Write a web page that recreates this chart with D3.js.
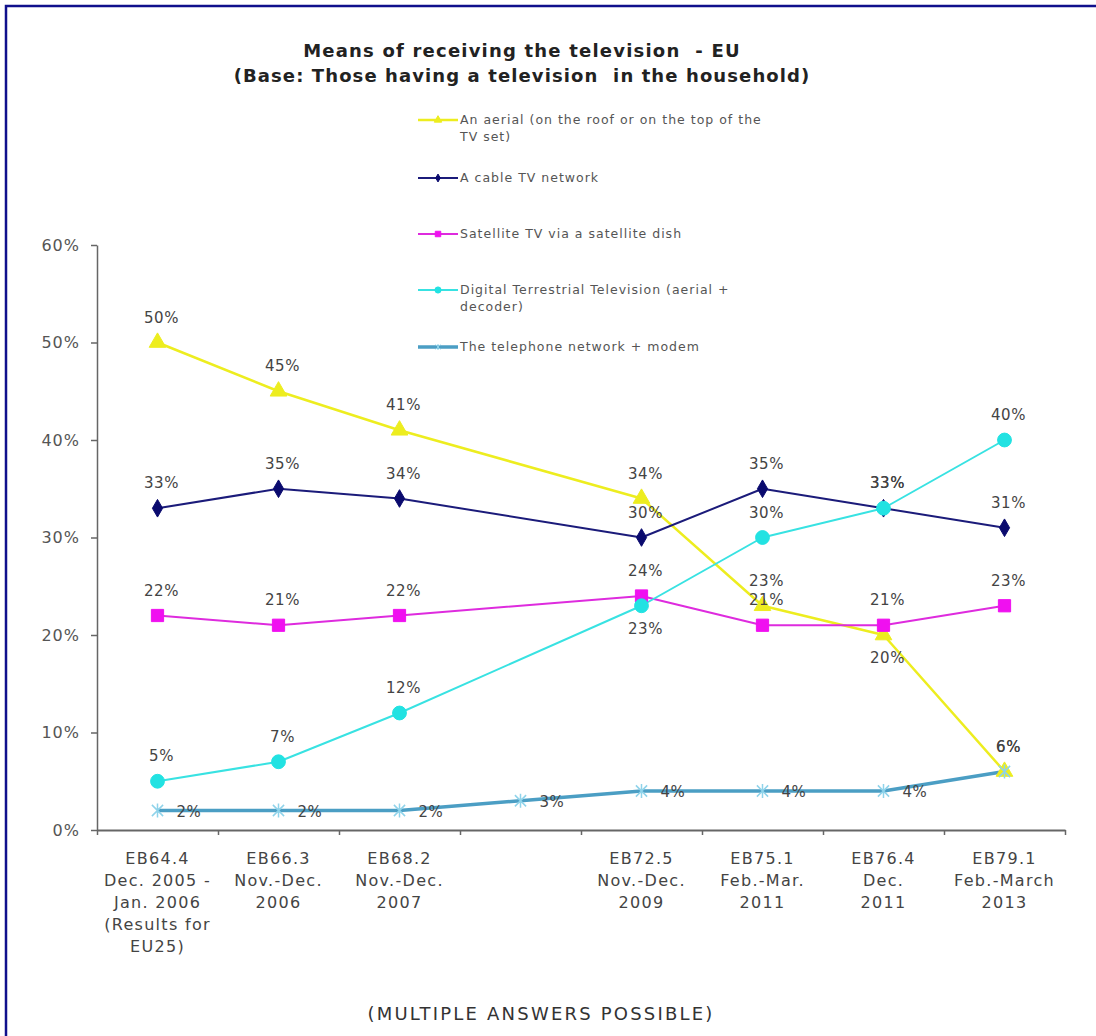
<!DOCTYPE html>
<html>
<head>
<meta charset="utf-8">
<script src="https://cdn.jsdelivr.net/npm/d3@7"></script>
<style>
  body { margin: 0; background: #fff; }
  text { font-family: "DejaVu Sans", Verdana, sans-serif; white-space: pre; }
</style>
</head>
<body>
<svg width="1096" height="1036"></svg>
<script>
// categories (the 4th wave has no label in the original chart)
var categories = [
  ["EB64.4", "Dec. 2005 -", "Jan. 2006", "(Results for", "EU25)"],
  ["EB66.3", "Nov.-Dec.", "2006"],
  ["EB68.2", "Nov.-Dec.", "2007"],
  [""],
  ["EB72.5", "Nov.-Dec.", "2009"],
  ["EB75.1", "Feb.-Mar.", "2011"],
  ["EB76.4", "Dec.", "2011"],
  ["EB79.1", "Feb.-March", "2013"]
];

var seriesNames = [
  ["An aerial (on the roof or on the top of the", "TV set)"],
  ["A cable TV network"],
  ["Satellite TV via a satellite dish"],
  ["Digital Terrestrial Television (aerial +", "decoder)"],
  ["The telephone network + modem"]
];

var aerial    = [50, 45, 41, null, 34, 23, 20, 6];
var cable     = [33, 35, 34, null, 30, 35, 33, 31];
var satellite = [22, 21, 22, null, 24, 21, 21, 23];
var dtt       = [5, 7, 12, null, 23, 30, 33, 40];
var telephone = [2, 2, 2, 3, 4, 4, 4, 6];

var yTicks = [0, 10, 20, 30, 40, 50, 60];

// where each value label sits: t = above, b = below, r = right
var aerialPos    = ["t", "t", "t", "", "t", "t", "b", "t"];
var cablePos     = ["t", "t", "t", "", "t", "t", "t", "t"];
var satellitePos = ["t", "t", "t", "", "t", "t", "t", "t"];
var dttPos       = ["t", "t", "t", "", "b", "t", "t", "t"];
var telephonePos = ["r", "r", "r", "r", "r", "r", "r", "t"];

var series = [
  {values: aerial, pos: aerialPos, color: "#eded1f", width: 2.5, marker: "triangle", mcolor: "#eded1f", msize: 120},
  {values: cable, pos: cablePos, color: "#1b1b7a", width: 2, marker: "diamond", mcolor: "#0a0a6e", msize: 90},
  {values: satellite, pos: satellitePos, color: "#de2bde", width: 2, marker: "square", mcolor: "#f010f0", msize: 150},
  {values: dtt, pos: dttPos, color: "#38e2e2", width: 2, marker: "circle", mcolor: "#22e2e2", msize: 150},
  {values: telephone, pos: telephonePos, color: "#4b9ec4", width: 3.5, marker: "star", mcolor: "#8fd3ea", msize: 7}
];

var svg = d3.select("svg");

// outer frame
svg.append("rect")
  .attr("x", 6).attr("y", 6)
  .attr("width", 1100).attr("height", 1040)
  .attr("fill", "none")
  .attr("stroke", "#10108c")
  .attr("stroke-width", 2.5);

var plotLeft = 97, plotRight = 1065, plotTop = 245, plotBottom = 830;

var x = d3.scaleBand().domain(d3.range(categories.length)).range([plotLeft, plotRight]);
var xt = d3.scaleLinear().domain([0, categories.length]).range([plotLeft, plotRight]);
var y = d3.scaleLinear().domain([0, 60]).range([plotBottom, plotTop]);
function cx(i) { return x(i) + x.bandwidth() / 2; }

// y axis
var yAxis = svg.append("g")
  .attr("transform", "translate(" + plotLeft + ",0)")
  .call(d3.axisLeft(y).tickValues(yTicks).tickSize(6).tickSizeOuter(0).tickFormat(function(d){ return d + "%"; }));
yAxis.select(".domain").attr("stroke", "#666").attr("stroke-width", 1.5);
yAxis.selectAll(".tick line").attr("stroke", "#666").attr("stroke-width", 1.5);
yAxis.selectAll(".tick text")
  .attr("x", -17)
  .attr("fill", "#555")
  .style("font-size", "16px")
  .style("letter-spacing", "1px")
  .style("font-family", "DejaVu Sans, Verdana, sans-serif");

// x axis
var xAxis = svg.append("g")
  .attr("transform", "translate(0," + plotBottom + ")")
  .call(d3.axisBottom(xt).tickValues(d3.range(categories.length + 1)).tickSize(5).tickSizeOuter(0).tickFormat(""));
xAxis.select(".domain").attr("stroke", "#666").attr("stroke-width", 2);
xAxis.selectAll(".tick line").attr("stroke", "#666").attr("stroke-width", 1.5);

// category labels
var catLabels = svg.append("g").selectAll("text")
  .data(categories)
  .enter()
  .append("text")
  .attr("text-anchor", "middle")
  .attr("fill", "#444")
  .style("font-size", "16px")
  .style("letter-spacing", "1.3px")
  .attr("transform", function(d, i){ return "translate(" + cx(i) + ",864)"; });
catLabels.selectAll("tspan")
  .data(function(d){ return d; })
  .enter()
  .append("tspan")
  .attr("x", 0)
  .attr("dy", function(d, j){ return j === 0 ? 0 : 22; })
  .text(function(d){ return d; });

// marker path builder
function markerPath(type, size) {
  if (type === "star") {
    var r = size;
    var d = r * 0.8;
    return "M0," + (-r) + "L0," + r +
      "M" + (-d) + "," + (-d) + "L" + d + "," + d +
      "M" + (-d) + "," + d + "L" + d + "," + (-d);
  }
  var sym = {triangle: d3.symbolTriangle, diamond: d3.symbolDiamond, square: d3.symbolSquare, circle: d3.symbolCircle}[type];
  return d3.symbol().type(sym).size(size)();
}

// draw lines (gaps are bridged, as in the original)
series.forEach(function(s){
  var pts = s.values.map(function(v, i){ return {v: v, i: i}; }).filter(function(p){ return p.v != null; });
  svg.append("path")
    .datum(pts)
    .attr("fill", "none")
    .attr("stroke", s.color)
    .attr("stroke-width", s.width)
    .attr("stroke-linejoin", "round")
    .attr("d", d3.line().x(function(p){ return cx(p.i); }).y(function(p){ return y(p.v); }));
});

// markers
series.forEach(function(s){
  var pts = s.values.map(function(v, i){ return {v: v, i: i}; }).filter(function(p){ return p.v != null; });
  svg.append("g").selectAll("path")
    .data(pts)
    .enter()
    .append("path")
    .attr("transform", function(p){ return "translate(" + cx(p.i) + "," + y(p.v) + ")"; })
    .attr("d", markerPath(s.marker, s.msize))
    .attr("fill", s.marker === "star" ? "none" : s.mcolor)
    .attr("stroke", s.mcolor)
    .attr("stroke-width", s.marker === "star" ? 1.5 : 1);
});

// value labels
series.forEach(function(s){
  var pts = s.values.map(function(v, i){ return {v: v, i: i, p: s.pos[i]}; }).filter(function(p){ return p.v != null; });
  svg.append("g").selectAll("text")
    .data(pts)
    .enter()
    .append("text")
    .attr("fill", "#444")
    .style("font-size", "15px")
    .style("letter-spacing", "0.5px")
    .attr("text-anchor", function(p){ return p.p === "r" ? "start" : "middle"; })
    .attr("x", function(p){ return p.p === "r" ? cx(p.i) + 19 : cx(p.i) + 4; })
    .attr("y", function(p){
      if (p.p === "t") return y(p.v) - 20;
      if (p.p === "b") return y(p.v) + 28;
      return y(p.v) + 6;
    })
    .text(function(p){ return p.v + "%"; });
});

// title
svg.append("text")
  .attr("x", 522).attr("y", 57)
  .attr("text-anchor", "middle")
  .attr("fill", "#222")
  .style("font-size", "18px")
  .style("letter-spacing", "1.2px")
  .style("font-weight", "bold")
  .text("Means of receiving the television  - EU");
svg.append("text")
  .attr("x", 522).attr("y", 82)
  .attr("text-anchor", "middle")
  .attr("fill", "#222")
  .style("font-size", "18px")
  .style("letter-spacing", "1.1px")
  .style("font-weight", "bold")
  .text("(Base: Those having a television  in the household)");

// legend
var legendY = [120, 178, 234, 290, 347];
series.forEach(function(s, k){
  var g = svg.append("g").attr("transform", "translate(418," + legendY[k] + ")");
  g.append("line")
    .attr("x1", 0).attr("x2", 40)
    .attr("y1", 0).attr("y2", 0)
    .attr("stroke", s.color)
    .attr("stroke-width", s.width);
  g.append("path")
    .attr("transform", "translate(20,0)")
    .attr("d", markerPath(s.marker, s.marker === "star" ? 3 : s.msize / 5))
    .attr("fill", s.marker === "star" ? "none" : s.mcolor)
    .attr("stroke", s.mcolor);
  var t = g.append("text")
    .attr("fill", "#555")
    .style("font-size", "12.5px")
    .style("letter-spacing", "1px")
    .attr("y", 4);
  t.selectAll("tspan")
    .data(seriesNames[k])
    .enter()
    .append("tspan")
    .attr("x", 42)
    .attr("dy", function(d, j){ return j === 0 ? 0 : 17; })
    .text(function(d){ return d; });
});

// footnote
svg.append("text")
  .attr("x", 541).attr("y", 1020)
  .attr("text-anchor", "middle")
  .attr("fill", "#333")
  .style("font-size", "18px")
  .style("letter-spacing", "2.2px")
  .text("(MULTIPLE ANSWERS POSSIBLE)");
</script>
</body>
</html>
